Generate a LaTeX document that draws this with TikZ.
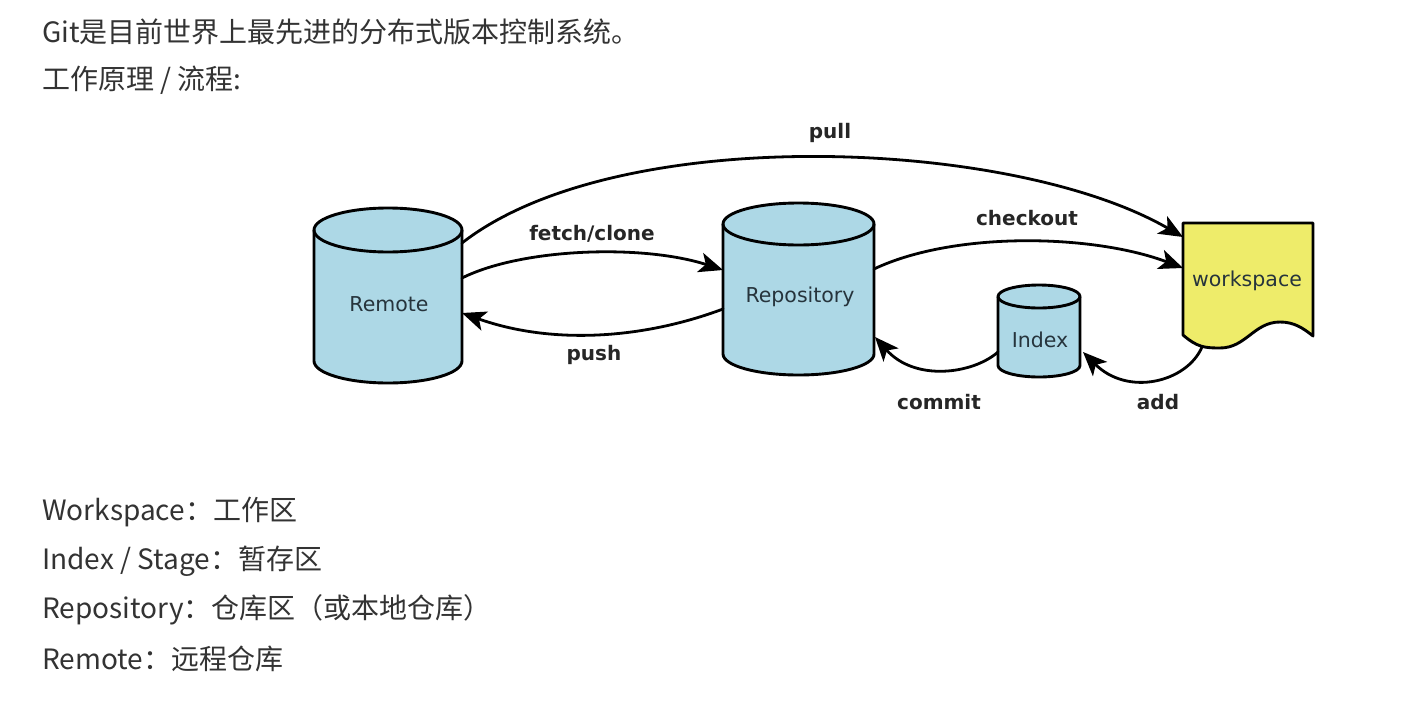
\documentclass[tikz,border=0pt]{standalone}
\usepackage{fontspec}
\setmainfont{DejaVu Sans}
\newfontfamily\cjkfont{Noto Sans CJK SC}
\usetikzlibrary{arrows.meta}

\definecolor{cylblue}{HTML}{ADD8E6}
\definecolor{docyellow}{HTML}{EEEC6A}
\definecolor{bodytext}{HTML}{333333}
\definecolor{nodetext}{HTML}{26343C}

% a cylinder drawn around a rectangular body node
\newcommand\drawcyl[3]{% node, x radius, y radius
  \filldraw[shapeline, fill=cylblue] (#1.north west) -- (#1.south west)
    arc[start angle=180, end angle=360, x radius=#2, y radius=#3]
    -- (#1.north east)
    arc[start angle=0, end angle=180, x radius=#2, y radius=#3] -- cycle;
  \draw[shapeline] (#1.north west)
    arc[start angle=180, end angle=360, x radius=#2, y radius=#3];
}

\begin{document}
\begin{tikzpicture}[x=1pt, y=1pt,
  shapeline/.style={draw=black, line width=2.9pt, line join=round},
  bodybox/.style={inner sep=0pt, outer sep=0pt},
  flow/.style={line width=2.8pt, line cap=round,
    -{Stealth[length=24pt, width=20pt, inset=6pt]}},
  flowlabel/.style={font=\fontsize{20}{24}\selectfont\bfseries, text=black!85},
  shapetext/.style={font=\fontsize{20.5}{24}\selectfont, text=nodetext},
  prose/.style={anchor=west, inner sep=0pt, text=bodytext,
    font=\fontsize{28}{32}\selectfont\cjkfont}]

\useasboundingbox[fill=white] (0,0) rectangle (1425,-702);

% text above and below the diagram
\node[prose] (intro) at (42,-32) {Git是目前世界上最先进的分布式版本控制系统。};
\node[prose] (flowtitle) at (42,-80) {工作原理 / 流程:};
\node[prose] (defws) at (42,-512) {Workspace：工作区};
\node[prose] (defidx) at (42,-561) {Index / Stage：暂存区};
\node[prose] (defrepo) at (42,-610) {Repository：仓库区（或本地仓库）};
\node[prose] (defremote) at (42,-659) {Remote：远程仓库};

% storage bodies
\node[bodybox, minimum width=148pt, minimum height=131pt] (remote) at (388,-295.5) {};
\node[bodybox, minimum width=151pt, minimum height=130pt] (repo) at (798.5,-289) {};
\node[bodybox, minimum width=82pt, minimum height=69pt] (index) at (1039,-331) {};
\node[bodybox, minimum width=130pt, minimum height=112pt] (ws) at (1248,-279) {};

\drawcyl{remote}{74}{22}
\drawcyl{repo}{75.5}{21}
\drawcyl{index}{41}{11.5}

% workspace: a sheet with a wavy lower edge
\filldraw[shapeline, fill=docyellow] (ws.south west) -- (ws.north west) -- (ws.north east)
  -- ([yshift=-1pt]ws.south east)
  .. controls +(-10,8) and +(14,0) .. ([shift={(32,13)}]ws.south)
  .. controls +(-26,0) and +(26,0) .. ([shift={(-28,-13)}]ws.south)
  .. controls +(-16,0) and +(14,-12) .. (ws.south west) -- cycle;

% names inside the shapes
\node[shapetext] (remotename) at (389,-304) {Remote};
\node[shapetext] (reponame) at (800,-297) {Repository};
\node[shapetext] (indexname) at (1040,-340) {Index};
\node[shapetext] (wsname) at (1247,-281) {workspace};

% transfers
\draw[flow] ([yshift=52.5pt]remote.east)
  .. controls +(155,121) and +(-171,99) .. ([yshift=42pt]ws.west);
\draw[flow] ([yshift=17.5pt]remote.east)
  .. controls +(60,30) and +(-80,26) .. ([yshift=19pt]repo.west);
\draw[flow] ([yshift=-20pt]repo.west)
  .. controls +(-80,-30) and +(90,-32) .. ([yshift=-17.5pt]remote.east);
\draw[flow] ([yshift=20pt]repo.east)
  .. controls +(80,38) and +(-90,34) .. ([yshift=11pt]ws.west);
\draw[flow] ([yshift=-21pt]index.west)
  .. controls +(-25,-22) and +(40,-45) .. ([shift={(1pt,-48pt)}]repo.east);
\draw[flow] ([shift={(-46pt,-12pt)}]ws.south)
  .. controls +(-15,-35) and +(45,-45) .. ([shift={(3pt,-21pt)}]index.east);

% transfer names
\node[flowlabel] (pulltext) at (830,-133) {pull};
\node[flowlabel] (fetchtext) at (592,-234) {fetch/clone};
\node[flowlabel] (pushtext) at (594,-355) {push};
\node[flowlabel] (checkouttext) at (1027,-218) {checkout};
\node[flowlabel] (committext) at (939,-402) {commit};
\node[flowlabel] (addtext) at (1158,-402) {add};

\end{tikzpicture}
\end{document}
